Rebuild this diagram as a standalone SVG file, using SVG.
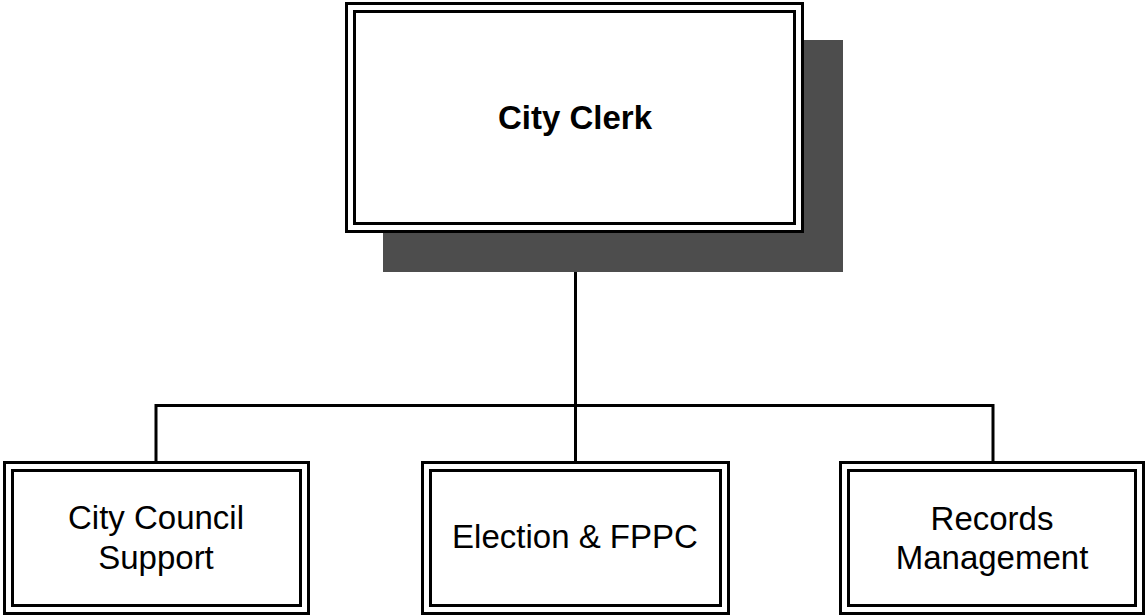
<svg xmlns="http://www.w3.org/2000/svg" width="1146" height="616" viewBox="0 0 1146 616">
<style>
.box{fill:#fff;stroke:#000;stroke-width:3}
.inner{fill:none;stroke:#000;stroke-width:3}
.conn{fill:none;stroke:#000;stroke-width:3}
text{font-family:"Liberation Sans",Arial,sans-serif;font-size:33px;fill:#000;text-anchor:middle}
.bold{font-weight:bold}
</style>
<g id="connectors">
<path class="conn" d="M575.5 232 V405.5 M156 405.5 H993 M156 404 V462 M575.5 404 V462 M993 404 V462"/>
</g>
<g id="city-clerk">
<rect x="383" y="40" width="460" height="232" fill="#4d4d4d"/>
<rect class="box" x="346.5" y="3.5" width="456" height="228"/>
<rect class="inner" x="354.5" y="11.5" width="440" height="212"/>
<text class="bold" x="575" y="129">City Clerk</text>
</g>
<g id="city-council-support">
<rect class="box" x="4.5" y="462.5" width="304" height="151"/>
<rect class="inner" x="12.5" y="470.5" width="288" height="135"/>
<text x="156" y="529">City Council</text>
<text x="156" y="569">Support</text>
</g>
<g id="election-fppc">
<rect class="box" x="422.5" y="462.5" width="306" height="151"/>
<rect class="inner" x="430.5" y="470.5" width="290" height="135"/>
<text x="575" y="548">Election &amp; FPPC</text>
</g>
<g id="records-management">
<rect class="box" x="840.5" y="462.5" width="303" height="151"/>
<rect class="inner" x="848.5" y="470.5" width="287" height="135"/>
<text x="992" y="530">Records</text>
<text x="992" y="569">Management</text>
</g>
</svg>
